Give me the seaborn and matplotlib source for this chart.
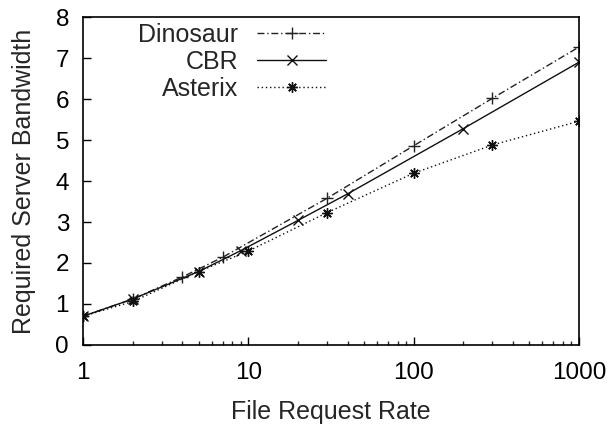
import numpy as np
import pandas as pd
import matplotlib
matplotlib.use("Agg")
import matplotlib.pyplot as plt
import seaborn as sns
from matplotlib.ticker import LogLocator, NullFormatter, FixedLocator

# Required server bandwidth per protocol versus file request rate
dino_rate = [1, 2, 4, 7, 30, 100, 300, 1000]
dino_bw = [0.70, 1.12, 1.66, 2.14, 3.58, 4.86, 6.02, 7.27]

cbr_rate = [1, 2, 5, 9, 20, 40, 200, 1000]
cbr_bw = [0.70, 1.12, 1.79, 2.30, 3.04, 3.69, 5.28, 6.90]

asterix_rate = [1, 2, 5, 10, 30, 100, 300, 1000]
asterix_bw = [0.70, 1.06, 1.79, 2.29, 3.23, 4.19, 4.88, 5.46]

series_names = ["Dinosaur", "CBR", "Asterix"]
x_ticks = [1, 10, 100, 1000]
y_ticks = [0, 1, 2, 3, 4, 5, 6, 7, 8]

frames = []
for name, xs, ys in [("Dinosaur", dino_rate, dino_bw),
                     ("CBR", cbr_rate, cbr_bw),
                     ("Asterix", asterix_rate, asterix_bw)]:
    frames.append(pd.DataFrame({"rate": xs, "bw": ys, "protocol": name}))
df = pd.concat(frames, ignore_index=True)

sns.set_theme(style="ticks")
plt.rcParams["font.family"] = ["Liberation Sans", "DejaVu Sans"]
plt.rcParams["font.size"] = 18

fig = plt.figure(figsize=(6.10, 4.29), dpi=100)
ax = fig.add_axes([0.136, 0.196, 0.813, 0.764])

styles = {
    "Dinosaur": dict(linestyle=(0, (5, 2, 1, 2)), marker="+", color="#222222", ms=8),
    "CBR": dict(linestyle="-", marker="x", color="#111111", ms=6.5),
    "Asterix": dict(linestyle=(0, (1, 2)), marker=(8, 2, 0), color="#111111", ms=7.5),
}
for name in series_names:
    sub = df[df["protocol"] == name]
    st = styles[name]
    sns.lineplot(data=sub, x="rate", y="bw", ax=ax, label=name,
                 color=st["color"], linestyle=st["linestyle"], linewidth=1.0,
                 marker=st["marker"], markersize=st["ms"], markeredgewidth=1.0,
                 markeredgecolor=st["color"])

ax.set_xscale("log")
ax.set_xlim(1, 1000)
ax.set_ylim(0, 8)
ax.xaxis.set_major_locator(FixedLocator(x_ticks))
ax.set_xticklabels([str(t) for t in x_ticks])
ax.xaxis.set_minor_locator(LogLocator(base=10, subs=np.arange(2, 10)))
ax.xaxis.set_minor_formatter(NullFormatter())
ax.set_yticks(y_ticks)
ax.set_yticklabels([str(t) for t in y_ticks])

ax.tick_params(axis="both", which="major", direction="in", length=6, width=1,
               labelsize=17.5, colors="black", pad=10)
ax.tick_params(axis="x", which="major", pad=12)
ax.tick_params(axis="x", which="minor", direction="in", length=3, width=1)
ax.tick_params(axis="y", which="minor", left=False)
for sp in ax.spines.values():
    sp.set_linewidth(1.2)
    sp.set_color("black")

ax.set_xlabel("File Request Rate", fontsize=18, labelpad=12)
ax.set_ylabel("Required Server Bandwidth", fontsize=18, labelpad=14)

# Labels sit to the left of their line samples, right-aligned
ax.legend(loc="upper right", bbox_to_anchor=(0.49, 0.983), frameon=False,
          markerfirst=False, handlelength=2.75, handletextpad=0.75,
          labelspacing=0.12, fontsize=18, borderaxespad=0.0, borderpad=0.0)

fig.savefig("out.png", dpi=100)
